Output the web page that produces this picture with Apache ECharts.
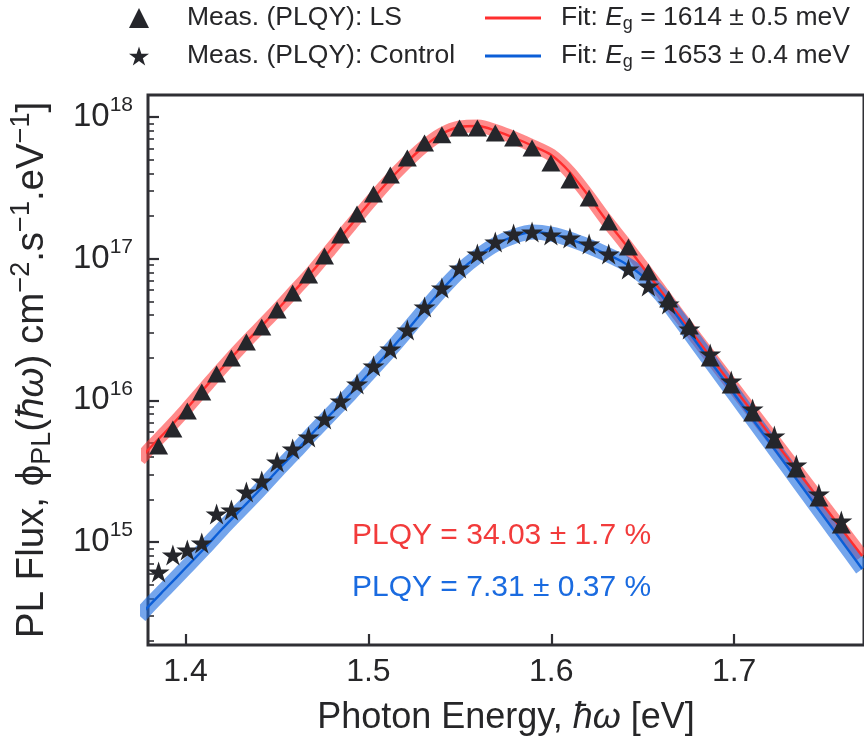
<!DOCTYPE html>
<html>
<head>
<meta charset="utf-8">
<script src="https://cdn.jsdelivr.net/npm/echarts@6/dist/echarts.min.js"></script>
<style>
  html, body { margin: 0; padding: 0; background: #ffffff; }
  #chart { width: 864px; height: 742px; }
</style>
</head>
<body>
<div id="chart"></div>
<script>
// Photon energies of the measured PL points (eV)
const ENERGY = [1.3853, 1.3931, 1.4010, 1.4089, 1.4170, 1.4251, 1.4333, 1.4417, 1.4501, 1.4586,
  1.4673, 1.4760, 1.4848, 1.4938, 1.5028, 1.5120, 1.5213, 1.5307, 1.5402, 1.5498,
  1.5596, 1.5694, 1.5794, 1.5895, 1.5998, 1.6102, 1.6207, 1.6314, 1.6422, 1.6531,
  1.6642, 1.6755, 1.6869, 1.6984, 1.7101, 1.7220, 1.7340, 1.7463, 1.7586];

// Measured PL flux, LS sample (cm^-2 s^-1 eV^-1)
const FLUX_LS = [4.76e15, 6.28e15, 8.41e15, 1.145e16, 1.534e16, 1.99e16, 2.58e16, 3.29e16, 4.34e16, 5.72e16,
  7.67e16, 1.044e17, 1.469e17, 2.07e17, 2.86e17, 3.90e17, 5.13e17, 6.55e17, 7.5e17, 8.36e17,
  8.36e17, 7.71e17, 7.11e17, 6.04e17, 4.73e17, 3.59e17, 2.68e17, 1.815e17, 1.209e17, 8.05e16,
  5.19e16, 3.35e16, 1.99e16, 1.283e16, 8.14e15, 5.25e15, 3.28e15, 2.045e15, 1.318e15];

// Measured PL flux, Control sample
const FLUX_CTRL = [6.04e14, 7.96e14, 8.64e14, 9.68e14, 1.551e15, 1.655e15, 2.218e15, 2.65e15, 3.61e15, 4.46e15,
  5.42e15, 7.26e15, 9.73e15, 1.283e16, 1.719e16, 2.27e16, 3.09e16, 4.48e16, 6.11e16, 8.45e16,
  1.061e17, 1.290e17, 1.469e17, 1.518e17, 1.445e17, 1.376e17, 1.249e17, 1.061e17, 8.32e16, 6.31e16,
  4.71e16, 3.14e16, 2.09e16, 1.347e16, 8.55e15, 5.51e15, 3.44e15, 2.147e15, 1.384e15];

// Energies at which the fitted spectra are tabulated (eV)
const FIT_ENERGY = [1.375, 1.38, 1.39, 1.40, 1.41, 1.42, 1.43, 1.44, 1.45, 1.46,
  1.47, 1.48, 1.49, 1.50, 1.51, 1.52, 1.53, 1.54, 1.55, 1.56,
  1.57, 1.58, 1.59, 1.60, 1.61, 1.62, 1.63, 1.64, 1.65, 1.66,
  1.67, 1.68, 1.69, 1.70, 1.71, 1.72, 1.73, 1.74, 1.75, 1.76, 1.77];

// Fitted spectrum, LS (Eg = 1614 meV)
const FIT_LS = [3.79e15, 4.53e15, 6.17e15, 8.55e15, 1.202e16, 1.69e16, 2.34e16, 3.19e16, 4.34e16, 6.01e16,
  8.32e16, 1.19e17, 1.70e17, 2.43e17, 3.42e17, 4.66e17, 6.14e17, 7.59e17, 8.50e17, 8.64e17,
  7.96e17, 7.11e17, 6.24e17, 5.39e17, 4.09e17, 2.81e17, 1.875e17, 1.290e17, 8.73e16, 5.91e16,
  3.94e16, 2.67e16, 1.805e16, 1.222e16, 8.27e15, 5.60e15, 3.79e15, 2.57e15, 1.738e15, 1.177e15, 7.96e14];

// Fitted spectrum, Control (Eg = 1653 meV)
const FIT_CTRL = [3.00e14, 3.54e14, 4.81e14, 6.55e14, 8.93e14, 1.235e15, 1.682e15, 2.29e15, 3.17e15, 4.32e15,
  5.98e15, 8.14e15, 1.108e16, 1.534e16, 2.12e16, 2.99e16, 4.27e16, 6.01e16, 8.18e16, 1.044e17,
  1.269e17, 1.445e17, 1.542e17, 1.493e17, 1.376e17, 1.229e17, 1.079e17, 9.32e16, 7.54e16, 5.54e16,
  3.75e16, 2.50e16, 1.664e16, 1.108e16, 7.38e15, 4.92e15, 3.28e15, 2.18e15, 1.453e15, 9.68e14, 6.45e14];

// Axis ticks
const X_TICKS = [1.4, 1.5, 1.6, 1.7];
const Y_MAJOR = [1e15, 1e16, 1e17, 1e18];
const Y_MINOR = [2e14, 3e14, 4e14, 5e14, 6e14, 7e14, 8e14, 9e14,
  2e15, 3e15, 4e15, 5e15, 6e15, 7e15, 8e15, 9e15,
  2e16, 3e16, 4e16, 5e16, 6e16, 7e16, 8e16, 9e16,
  2e17, 3e17, 4e17, 5e17, 6e17, 7e17, 8e17, 9e17];

// Legend / annotation texts
const NAME_LS = 'Meas. (PLQY): LS';
const NAME_CTRL = 'Meas. (PLQY): Control';
const NAME_FIT_LS = 'Fit LS';
const NAME_FIT_CTRL = 'Fit Control';
const FIT_LABEL = {
  [NAME_FIT_LS]: 'Fit: {i|E}{sub|g} = 1614 ± 0.5 meV',
  [NAME_FIT_CTRL]: 'Fit: {i|E}{sub|g} = 1653 ± 0.4 meV'
};
const PLQY_LS = 'PLQY = 34.03 ± 1.7 %';
const PLQY_CTRL = 'PLQY = 7.31 ± 0.37 %';

const FONT = "'Liberation Sans', Arial, Helvetica, sans-serif";
const INK = '#262628';
const MARK = '#25262b';
const RED = '#ff2e2e';
const RED_BAND = 'rgba(255,60,60,0.6)';
const BLUE = '#0b5ed7';
const BLUE_BAND = 'rgba(30,110,225,0.62)';
const RED_TEXT = '#f23b3b';
const BLUE_TEXT = '#1a6be0';
const STAR = 'path://M50,0L61.23,34.55L97.55,34.55L68.17,55.9L79.39,90.45L50,69.1L20.61,90.45L31.83,55.9L2.45,34.55L38.77,34.55Z';

const X_MIN = 1.3795, X_MAX = 1.771;
const Y_MIN = 1.875e14, Y_MAX = 1.43e18;

const zip = (xs, ys) => xs.map((x, i) => [x, ys[i]]);

const chart = echarts.init(document.getElementById('chart'), null, { renderer: 'canvas' });

const legendText = {
  color: INK, fontFamily: FONT, fontSize: 26.5, lineHeight: 30,
  rich: {
    sp: { width: 33 },
    sp2: { width: 15 },
    i: { fontStyle: 'italic', fontSize: 26.5, fontFamily: FONT, color: INK, lineHeight: 30 },
    sub: { fontSize: 18, fontFamily: FONT, color: INK, lineHeight: 18, verticalAlign: 'bottom' }
  }
};

const option = {
  animation: false,
  backgroundColor: '#ffffff',
  grid: {
    left: 143, top: 95, right: -6, bottom: 97,
    show: true, borderColor: '#2f2f34', borderWidth: 3, backgroundColor: 'transparent'
  },
  legend: [
    {
      orient: 'vertical', left: 129, top: 3, padding: 0, itemGap: 8,
      itemWidth: 20, itemHeight: 20, selectedMode: false,
      data: [{ name: NAME_LS, icon: 'triangle' }, { name: NAME_CTRL, icon: STAR }],
      formatter: n => '{sp| }' + n,
      textStyle: legendText
    },
    {
      orient: 'vertical', left: 485, top: 3, padding: 0, itemGap: 8,
      itemWidth: 56, itemHeight: 3, selectedMode: false,
      data: [{ name: NAME_FIT_LS, icon: 'rect' }, { name: NAME_FIT_CTRL, icon: 'rect' }],
      formatter: n => '{sp2| }' + FIT_LABEL[n],
      textStyle: legendText
    }
  ],
  xAxis: {
    type: 'value', min: X_MIN, max: X_MAX,
    axisLine: { show: false },
    splitLine: { show: false },
    axisTick: {
      inside: true, length: 11, customValues: X_TICKS,
      lineStyle: { color: '#2f2f34', width: 2.2 }
    },
    axisLabel: {
      customValues: X_TICKS, margin: 11,
      formatter: v => v.toFixed(1),
      color: INK, fontFamily: FONT, fontSize: 32
    },
    name: 'Photon Energy, {i|ħω} [eV]',
    nameLocation: 'middle', nameGap: 55,
    nameTextStyle: {
      color: INK, fontFamily: FONT, fontSize: 36,
      rich: { i: { fontStyle: 'italic', fontFamily: FONT, fontSize: 36, color: INK } }
    }
  },
  yAxis: [
    {
      type: 'log', logBase: 10, min: Y_MIN, max: Y_MAX,
      axisLine: { show: false },
      splitLine: { show: false },
      minorTick: { show: false },
      axisTick: {
        inside: true, length: 11, customValues: Y_MAJOR,
        lineStyle: { color: '#2f2f34', width: 2.2 }
      },
      axisLabel: {
        customValues: Y_MAJOR, margin: 15,
        formatter: v => '{b|10}{s|' + Math.round(Math.log10(v)) + '}',
        rich: {
          b: { fontSize: 33, lineHeight: 44, fontFamily: FONT, color: INK },
          s: { fontSize: 21, lineHeight: 16, verticalAlign: 'top', fontFamily: FONT, color: INK }
        }
      },
      name: '{t|PL Flux, }{t|ϕ}{sub|PL}{t|(}{i|ħω}{t|) cm}{sup|−2}{t|.s}{sup|−1}{t|.eV}{sup|−1}{t|]}',
      nameLocation: 'middle', nameGap: 92,
      nameTextStyle: {
        color: INK, fontFamily: FONT, fontSize: 38.5,
        rich: {
          t: { fontSize: 38.5, lineHeight: 48, fontFamily: FONT, color: INK },
          i: { fontSize: 38.5, lineHeight: 48, fontStyle: 'italic', fontFamily: FONT, color: INK },
          sup: { fontSize: 27, lineHeight: 20, verticalAlign: 'top', fontFamily: FONT, color: INK },
          sub: { fontSize: 27, lineHeight: 20, verticalAlign: 'bottom', fontFamily: FONT, color: INK }
        }
      }
    },
    {
      // minor decade ticks
      type: 'log', logBase: 10, min: Y_MIN, max: Y_MAX, position: 'left',
      axisLine: { show: false },
      splitLine: { show: false },
      axisLabel: { show: false },
      axisTick: {
        inside: true, length: 6, customValues: Y_MINOR,
        lineStyle: { color: '#2f2f34', width: 1.6 }
      }
    }
  ],
  series: [
    {
      name: 'band LS', type: 'line', data: zip(FIT_ENERGY, FIT_LS),
      showSymbol: false, smooth: 0.3, silent: true, z: 1,
      lineStyle: { color: RED_BAND, width: 13 }, itemStyle: { color: RED_BAND }
    },
    {
      name: 'band Control', type: 'line', data: zip(FIT_ENERGY, FIT_CTRL),
      showSymbol: false, smooth: 0.3, silent: true, z: 1,
      lineStyle: { color: BLUE_BAND, width: 15 }, itemStyle: { color: BLUE_BAND }
    },
    {
      name: NAME_FIT_LS, type: 'line', data: zip(FIT_ENERGY, FIT_LS),
      showSymbol: false, smooth: 0.3, z: 2, color: RED,
      lineStyle: { color: RED, width: 2.4 }, itemStyle: { color: RED }
    },
    {
      name: NAME_FIT_CTRL, type: 'line', data: zip(FIT_ENERGY, FIT_CTRL),
      showSymbol: false, smooth: 0.3, z: 2, color: BLUE,
      lineStyle: { color: BLUE, width: 2.4 }, itemStyle: { color: BLUE }
    },
    {
      name: NAME_LS, type: 'scatter', data: zip(ENERGY, FLUX_LS),
      symbol: 'triangle', symbolSize: [19, 17], z: 3,
      itemStyle: { color: MARK, opacity: 1 }
    },
    {
      name: NAME_CTRL, type: 'scatter', data: zip(ENERGY, FLUX_CTRL),
      symbol: STAR, symbolSize: [22, 21], symbolOffset: [0, -1], z: 3,
      itemStyle: { color: MARK, opacity: 1 }
    }
  ],
  graphic: [
    {
      type: 'text', x: 352, y: 536,
      style: { text: PLQY_LS, fill: RED_TEXT, fontFamily: FONT, fontSize: 30, align: 'left', verticalAlign: 'middle' }
    },
    {
      type: 'text', x: 352, y: 588,
      style: { text: PLQY_CTRL, fill: BLUE_TEXT, fontFamily: FONT, fontSize: 30, align: 'left', verticalAlign: 'middle' }
    }
  ]
};

chart.setOption(option);
</script>
</body>
</html>
